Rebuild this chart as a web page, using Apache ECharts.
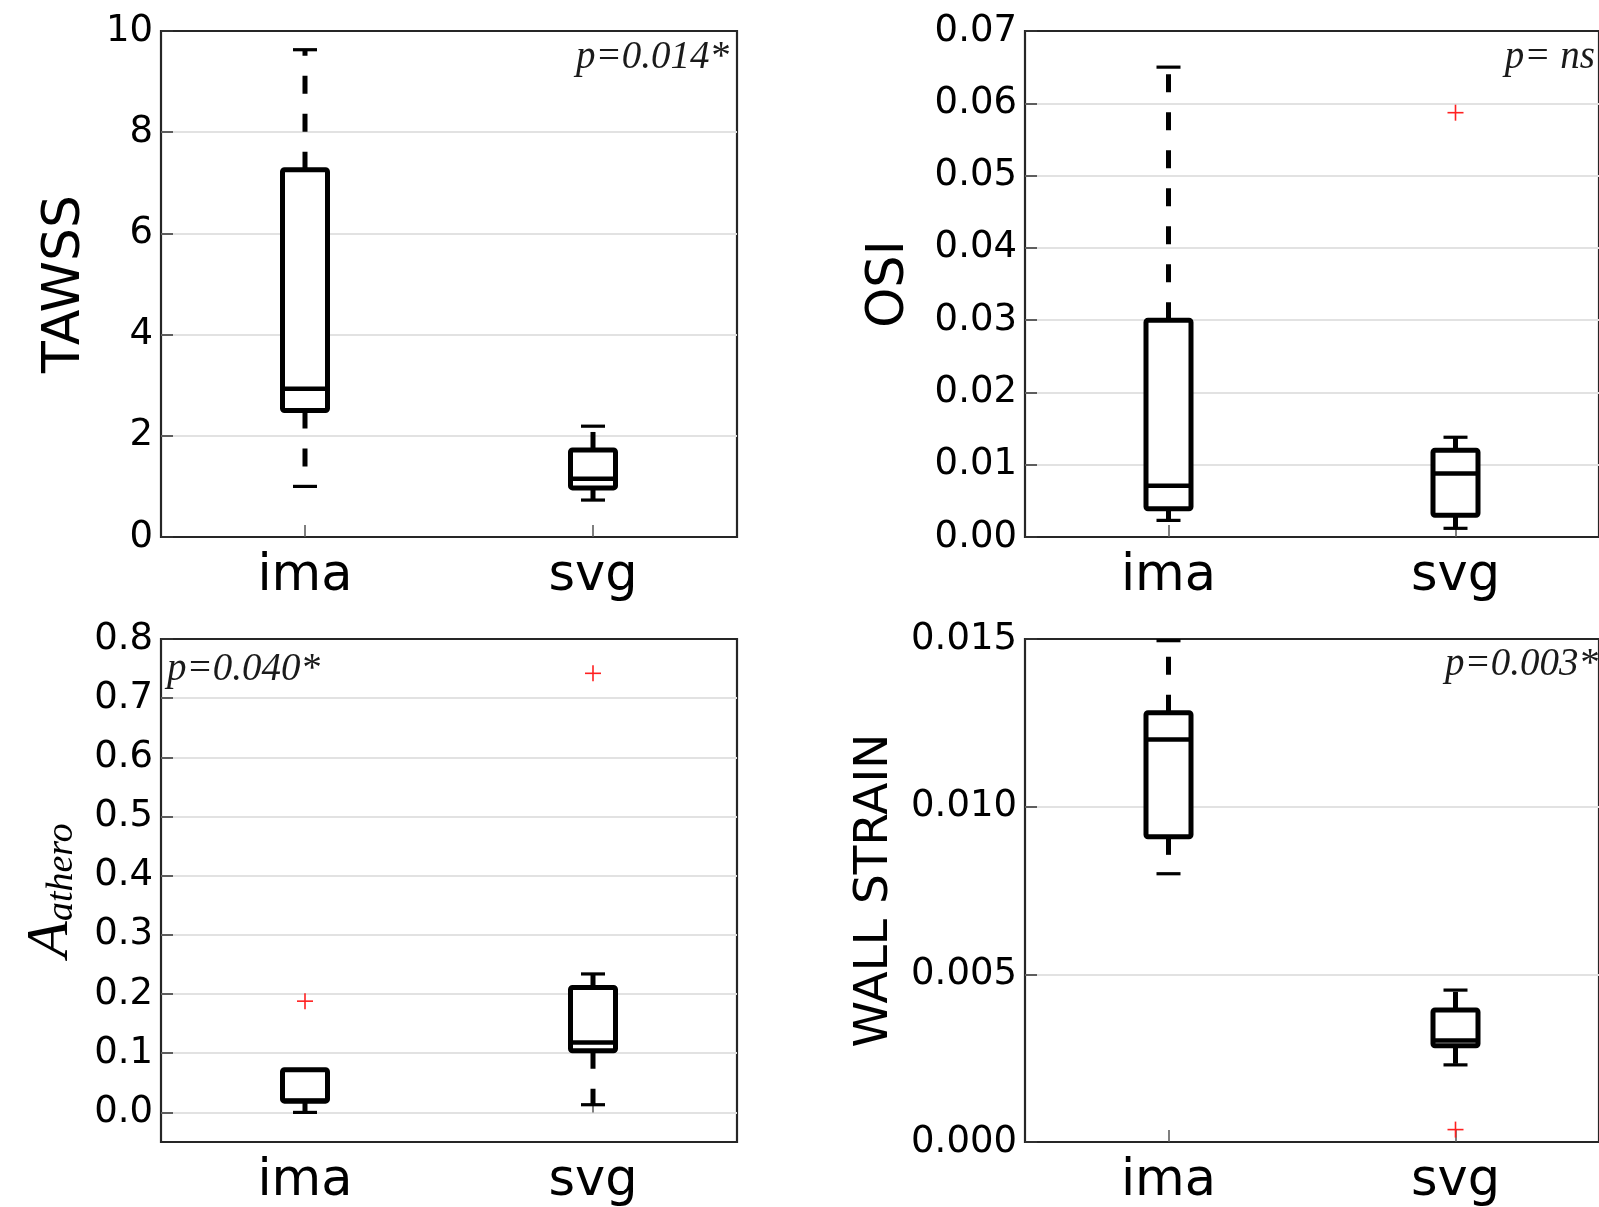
<!DOCTYPE html>
<html>
<head>
<meta charset="utf-8">
<title>TAWSS / OSI / A_athero / WALL STRAIN</title>
<script src="https://cdn.jsdelivr.net/npm/echarts@6/dist/echarts.min.js"></script>
<style>
  html, body { margin: 0; padding: 0; background: #fff; }
  #main { width: 1599px; height: 1207px; }
</style>
</head>
<body>
<div id="main"></div>
<script>
// categories on every x axis
var categories = ['ima', 'svg'];

// boxes: [lower cap, Q1, median, Q3, upper cap], one per category
var tawssBox = [[1.0, 2.5, 2.93, 7.26, 9.63], [0.73, 0.97, 1.15, 1.72, 2.19]];
var osiBox = [[0.0023, 0.0039, 0.0071, 0.0300, 0.0650], [0.0012, 0.0030, 0.0088, 0.0120, 0.0138]];
var atheroBox = [[0.0, 0.019, 0.020, 0.072, 0.072], [0.013, 0.104, 0.118, 0.211, 0.234]];
var strainBox = [[0.0080, 0.0091, 0.0120, 0.0128, 0.01495], [0.0023, 0.00287, 0.00303, 0.00394, 0.00453]];

// outliers: [category index, value]
var tawssOut = [];
var osiOut = [[1, 0.0587]];
var atheroOut = [[0, 0.188], [1, 0.742]];
var strainOut = [[1, 0.00037]];

// tick values of the A_athero axis (its range starts at -0.05)
var atheroTicks = [0, 0.1, 0.2, 0.3, 0.4, 0.5, 0.6, 0.7, 0.8];

var pTexts = ['p=0.014*', 'p= ns', 'p=0.040*', 'p=0.003*'];

var FONT = 'DejaVu Sans';

function renderBox(params, api) {
  var c = api.value(0);
  var p = [1, 2, 3, 4, 5].map(function (k) { return api.coord([c, api.value(k)]); });
  var x = p[0][0];
  var yLo = p[0][1], yQ1 = p[1][1], yMed = p[2][1], yQ3 = p[3][1], yHi = p[4][1];
  var hw = 22.5, cw = 12;
  var dashed = { stroke: '#000', lineWidth: 5, lineDash: [18, 20] };
  var cap = { stroke: '#000', lineWidth: 3.2 };
  return {
    type: 'group',
    children: [
      { type: 'line', shape: { x1: x, y1: yQ3, x2: x, y2: yHi }, style: dashed },
      { type: 'line', shape: { x1: x, y1: yQ1, x2: x, y2: yLo }, style: dashed },
      { type: 'line', shape: { x1: x - cw, y1: yHi, x2: x + cw, y2: yHi }, style: cap },
      { type: 'line', shape: { x1: x - cw, y1: yLo, x2: x + cw, y2: yLo }, style: cap },
      { type: 'rect', shape: { x: x - hw, y: yQ3, width: hw * 2, height: yQ1 - yQ3, r: 2 },
        style: { fill: '#fff', stroke: '#000', lineWidth: 5 } },
      { type: 'line', shape: { x1: x - hw, y1: yMed, x2: x + hw, y2: yMed }, style: { stroke: '#000', lineWidth: 4.5 } }
    ]
  };
}

function renderPlus(params, api) {
  var pt = api.coord([api.value(0), api.value(1)]);
  var s = 8;
  var st = { stroke: '#ff2020', lineWidth: 1.6 };
  return {
    type: 'group',
    children: [
      { type: 'line', shape: { x1: pt[0] - s, y1: pt[1], x2: pt[0] + s, y2: pt[1] }, style: st },
      { type: 'line', shape: { x1: pt[0], y1: pt[1] - s, x2: pt[0], y2: pt[1] + s }, style: st }
    ]
  };
}

// right-hand panels run off the right edge of the picture
var grids = [
  { left: 161, top: 31, width: 576, height: 506 },
  { left: 1025, top: 31, width: 579, height: 506 },
  { left: 161, top: 639, width: 576, height: 505 },
  { left: 1025, top: 639, width: 579, height: 505 }
];
grids.forEach(function (g) {
  g.show = true;
  g.borderColor = '#262626';
  g.borderWidth = 2.2;
  g.backgroundColor = 'transparent';
});

function yAxis(i, extra) {
  var ax = {
    gridIndex: i,
    type: 'value',
    nameLocation: 'middle',
    nameRotate: 90,
    nameTextStyle: { fontSize: 51, fontFamily: FONT, color: '#000' },
    axisLine: { show: false },
    axisTick: { show: true, inside: true, length: 12, lineStyle: { color: '#333', width: 1.5 } },
    axisLabel: { fontSize: 37, fontFamily: FONT, color: '#000', margin: 8 },
    splitLine: { show: true, showMinLine: false, showMaxLine: false, lineStyle: { color: '#e2e2e2', width: 2 } }
  };
  for (var k in extra) {
    if (k === 'axisLabel' || k === 'axisTick' || k === 'nameTextStyle' || k === 'splitLine') {
      for (var j in extra[k]) ax[k][j] = extra[k][j];
    } else {
      ax[k] = extra[k];
    }
  }
  return ax;
}

var xAxes = [0, 1, 2, 3].map(function (i) {
  return {
    gridIndex: i,
    type: 'category',
    data: categories,
    boundaryGap: true,
    axisLine: { show: false },
    axisTick: { show: true, inside: true, alignWithLabel: true, length: 12, lineStyle: { color: '#555', width: 1.5 } },
    axisLabel: { fontSize: 51, fontFamily: FONT, color: '#000', margin: 14 },
    splitLine: { show: false }
  };
});

var yAxes = [
  yAxis(0, { name: 'TAWSS', nameGap: 70, min: 0, max: 10, interval: 2,
    nameTextStyle: { fontSize: 52 } }),
  yAxis(1, { name: 'OSI', nameGap: 110, min: 0, max: 0.07, interval: 0.01,
    axisLabel: { formatter: function (v) { return v.toFixed(2); } } }),
  yAxis(2, { name: '{a|A}{s|athero}', nameGap: 80, min: -0.05, max: 0.8,
    axisLabel: { customValues: atheroTicks, formatter: function (v) { return v.toFixed(1); } },
    axisTick: { customValues: atheroTicks },
    splitLine: { showMinLine: true },
    nameTextStyle: { rich: {
      a: { fontSize: 60, fontFamily: 'Liberation Serif', fontStyle: 'italic', color: '#000', lineHeight: 60, verticalAlign: 'top' },
      s: { fontSize: 38, fontFamily: 'Liberation Serif', fontStyle: 'italic', color: '#000', lineHeight: 38, padding: [30, 0, 0, 0], verticalAlign: 'bottom' }
    } } }),
  yAxis(3, { name: 'WALL STRAIN', nameGap: 127, min: 0, max: 0.015, interval: 0.005,
    nameTextStyle: { fontSize: 47 },
    axisLabel: { formatter: function (v) { return v.toFixed(3); } } })
];

var boxes = [tawssBox, osiBox, atheroBox, strainBox];
var outs = [tawssOut, osiOut, atheroOut, strainOut];
var series = [];
boxes.forEach(function (b, i) {
  series.push({
    type: 'custom',
    xAxisIndex: i,
    yAxisIndex: i,
    renderItem: renderBox,
    encode: { x: 0, y: [1, 2, 3, 4, 5] },
    data: b.map(function (row, c) { return [c].concat(row); }),
    z: 3
  });
  series.push({
    type: 'custom',
    xAxisIndex: i,
    yAxisIndex: i,
    renderItem: renderPlus,
    encode: { x: 0, y: 1 },
    data: outs[i],
    z: 4
  });
});

var pFont = 'italic 39px "Liberation Serif"';
var graphic = [
  { type: 'text', x: 729, y: 58, style: { text: pTexts[0], font: pFont, fill: '#1a1a1a', textAlign: 'right', textVerticalAlign: 'middle' } },
  { type: 'text', x: 1595, y: 58, style: { text: pTexts[1], font: pFont, fill: '#1a1a1a', textAlign: 'right', textVerticalAlign: 'middle' } },
  { type: 'text', x: 167, y: 670, style: { text: pTexts[2], font: pFont, fill: '#1a1a1a', textAlign: 'left', textVerticalAlign: 'middle' } },
  { type: 'text', x: 1598, y: 665, style: { text: pTexts[3], font: pFont, fill: '#1a1a1a', textAlign: 'right', textVerticalAlign: 'middle' } }
];

var chart = echarts.init(document.getElementById('main'), null, { renderer: 'canvas' });
chart.setOption({
  backgroundColor: '#fff',
  animation: false,
  grid: grids,
  xAxis: xAxes,
  yAxis: yAxes,
  series: series,
  graphic: graphic
});
</script>
</body>
</html>
